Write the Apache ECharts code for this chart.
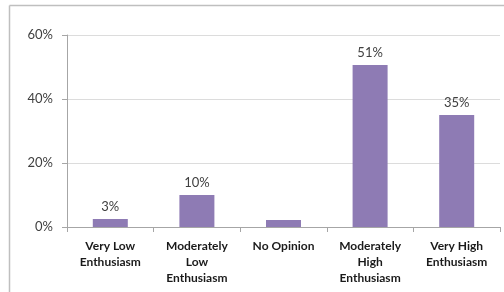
<!DOCTYPE html>
<html>
<head>
<meta charset="utf-8">
<script src="https://cdn.jsdelivr.net/npm/echarts@6/dist/echarts.min.js"></script>
<style>
  html, body { margin: 0; padding: 0; background: #fff; }
  #main { width: 504px; height: 292px; }
</style>
</head>
<body>
<div id="main"></div>
<script>
var categories = ['Very Low\nEnthusiasm', 'Moderately\nLow\nEnthusiasm', 'No Opinion', 'Moderately\nHigh\nEnthusiasm', 'Very High\nEnthusiasm'];
var values = [2.5, 10, 2.2, 50.6, 35];
var valueLabels = ['3%', '10%', '', '51%', '35%'];
var yTicks = [0, 20, 40, 60];

var myChart = echarts.init(document.getElementById('main'));

var option = {
    animation: false,
    textStyle: { fontFamily: 'Lato' },
    graphic: [
        // outer frame of the slide
        { type: 'line', shape: { x1: 9.5, y1: 5.5, x2: 504, y2: 5.5 }, style: { stroke: '#bfbfbf', lineWidth: 1.5 } },
        { type: 'line', shape: { x1: 9.5, y1: 5.5, x2: 9.5, y2: 292 }, style: { stroke: '#bfbfbf', lineWidth: 1.5 } }
    ],
    grid: { left: 67, right: 4, top: 35, bottom: 65 },
    xAxis: {
        type: 'category',
        data: categories,
        axisLine: { lineStyle: { color: '#a6a6a6' } },
        axisTick: { show: true, length: 5, lineStyle: { color: '#a6a6a6' } },
        axisLabel: {
            interval: 0, margin: 11, color: '#1a1a1a',
            fontWeight: 'bold', fontSize: 12, lineHeight: 16
        }
    },
    yAxis: {
        type: 'value',
        min: yTicks[0], max: yTicks[yTicks.length - 1], interval: 20,
        axisLine: { show: true, lineStyle: { color: '#a6a6a6' } },
        axisTick: { show: true, length: 5, lineStyle: { color: '#a6a6a6' } },
        splitLine: { lineStyle: { color: '#dcdcdc' } },
        axisLabel: { formatter: '{value}%', color: '#404040', fontSize: 13, margin: 14 }
    },
    series: [{
        type: 'bar',
        data: values,
        barWidth: 35,
        itemStyle: { color: '#8e7bb4' },
        label: {
            show: true, position: 'top', distance: 6,
            color: '#404040', fontSize: 13,
            formatter: function (p) { return valueLabels[p.dataIndex]; }
        }
    }]
};

myChart.setOption(option);
</script>
</body>
</html>
